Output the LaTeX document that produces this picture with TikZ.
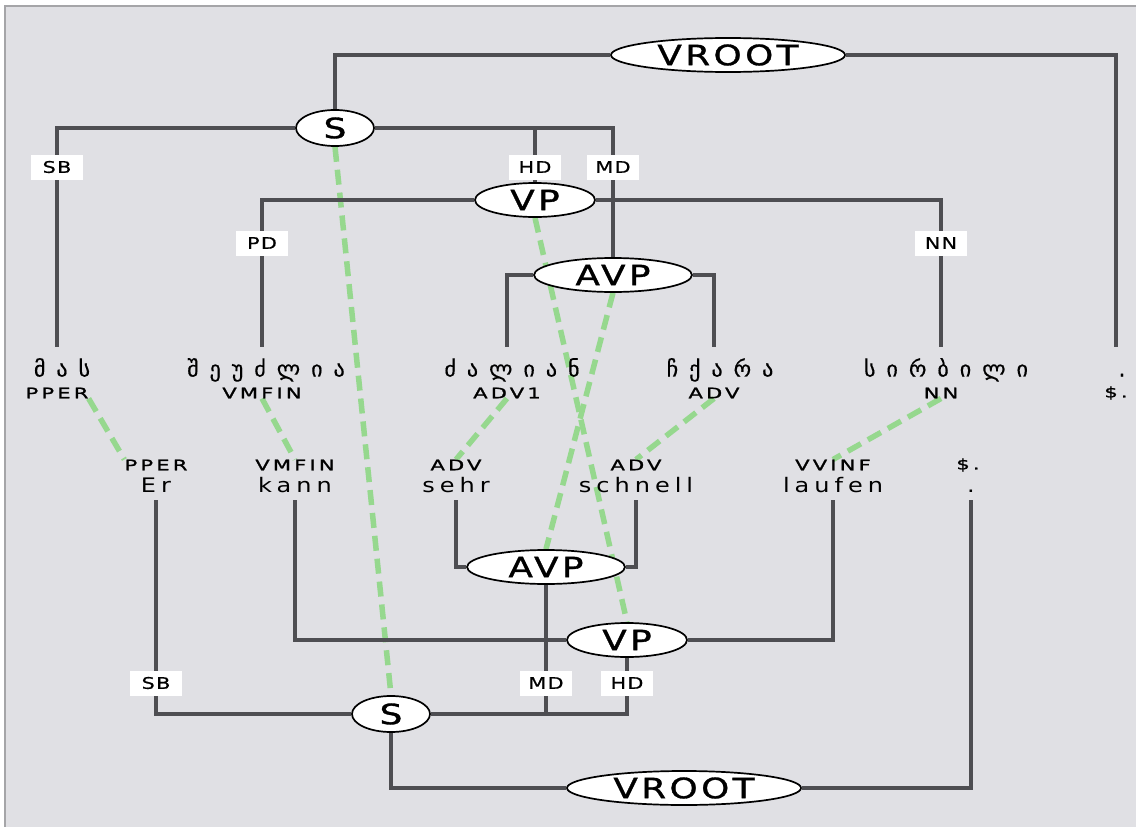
\documentclass[tikz,border=0pt]{standalone}
\usepackage{fontspec}
\setmainfont{DejaVu Sans}
\newfontfamily\catfont[FakeStretch=1.28,LetterSpace=12,FakeBold=1.2]{DejaVu Sans}
\newfontfamily\geofont[LetterSpace=50,FakeBold=0.4]{DejaVu Sans}
\newfontfamily\wordfont[FakeStretch=1.2,LetterSpace=25]{DejaVu Sans}
\newfontfamily\tagfont[FakeStretch=1.45,LetterSpace=22,FakeBold=1.5]{DejaVu Sans}
\newfontfamily\labfont[FakeStretch=1.3,LetterSpace=8,FakeBold=0.6]{DejaVu Sans}
\usetikzlibrary{shapes.geometric}
\pgfdeclarelayer{panel}
\pgfdeclarelayer{links}
\pgfsetlayers{panel,links,main}
\definecolor{panelgray}{RGB}{224,224,228}
\definecolor{framegray}{RGB}{165,165,168}
\definecolor{edgegray}{RGB}{78,78,82}
\definecolor{linkgreen}{RGB}{150,216,142}

\begin{document}
\begin{tikzpicture}[x=1pt,y=-1pt,
  cat/.style={ellipse, draw=black, line width=1.7pt, fill=white, inner sep=0pt,
              font=\catfont\fontsize{28}{28}\selectfont},
  arc/.style={draw=edgegray, line width=4.2pt},
  lab/.style={fill=white, inner sep=0pt, minimum width=52pt, minimum height=25pt,
              font=\labfont\fontsize{16}{16}\selectfont},
  geo/.style={inner sep=0pt, text height=15pt, text depth=4pt,
              font=\geofont\fontsize{22}{22}\selectfont},
  word/.style={inner sep=0pt, text height=14pt, text depth=4pt,
               font=\wordfont\fontsize{20}{20}\selectfont},
  tag/.style={inner sep=0pt, font=\tagfont\fontsize{14.5}{14.5}\selectfont},
  link/.style={draw=linkgreen, line width=5.5pt, dash pattern=on 15pt off 8pt}
]
\path[use as bounding box] (0,0) rectangle (1136,827);

% window panel
\begin{pgfonlayer}{panel}
  \fill[white] (0,0) rectangle (1136,827);
  \fill[panelgray] (5,6) rectangle (1136,827);
  \draw[framegray, line width=1.5pt] (5,827) -- (5,6) -- (1136,6);
\end{pgfonlayer}

% ---------- Georgian tree (top) ----------
\node[cat, minimum width=234pt, minimum height=34pt] (VR1) at (728,55) {VROOT};
\node[cat, minimum width=78pt, minimum height=36pt] (S1) at (335,128) {S};
\node[cat, minimum width=120pt, minimum height=34pt] (VP1) at (535,200) {VP};
\node[cat, minimum width=158pt, minimum height=34pt] (AVP1) at (613,275) {AVP};

\node[geo] (g1) at (62,371) {მას};
\node[geo] (g2) at (266,371) {შეუძლია};
\node[geo] (g3) at (512,371) {ძალიან};
\node[geo] (g4) at (720,371) {ჩქარა};
\node[geo] (g5) at (946,371) {სირბილი};
\node[geo] (g6) at (1122,371) {.};

\node[tag] (t1) at (57,393) {PPER};
\node[tag] (t2) at (262,393) {VMFIN};
\node[tag] (t3) at (507,393) {ADV1};
\node[tag] (t4) at (714,393) {ADV};
\node[tag] (t5) at (941,393) {NN};
\node[tag] (t6) at (1116,393) {\$.};

% ---------- German tree (bottom) ----------
\node[tag] (b1) at (156,465) {PPER};
\node[tag] (b2) at (295,465) {VMFIN};
\node[tag] (b3) at (456,465) {ADV};
\node[tag] (b4) at (636,465) {ADV};
\node[tag] (b5) at (833,465) {VVINF};
\node[tag] (b6) at (968,465) {\$.};

\node[word] (w1) at (156,487) {Er};
\node[word] (w2) at (295,487) {kann};
\node[word] (w3) at (456,487) {sehr};
\node[word] (w4) at (636,487) {schnell};
\node[word] (w5) at (833,487) {laufen};
\node[word] (w6) at (971,487) {.};

\node[cat, minimum width=158pt, minimum height=34pt] (AVP2) at (546,567) {AVP};
\node[cat, minimum width=120pt, minimum height=34pt] (VP2) at (627,640) {VP};
\node[cat, minimum width=78pt, minimum height=36pt] (S2) at (391,714) {S};
\node[cat, minimum width=234pt, minimum height=34pt] (VR2) at (684,788) {VROOT};

% ---------- alignment links ----------
\begin{pgfonlayer}{links}
  \draw[link] (S1.south) -- (S2.north);
  \draw[link] (VP1.south) -- (VP2.north);
  \draw[link] (AVP1.south) -- (AVP2.north);
  \draw[link] (t1.south east) -- (b1.north west);
  \draw[link] (t2.south) -- (b2.north);
  \draw[link] (t3.south) -- (b3.north);
  \draw[link] (t4.south) -- (b4.north);
  \draw[link] (t5.south) -- (b5.north);
\end{pgfonlayer}

% ---------- edges of the top tree ----------
\draw[arc] (VR1.west) -| (S1.north);
\draw[arc, shorten >=14pt] (VR1.east) -| (t6.north |- g6.north);
\draw[arc, shorten >=14pt] (S1.west) -| (t1.north |- g1.north);
\draw[arc] (S1.east) -| (AVP1.north);
\draw[arc] (S1.east -| VP1.north) -- (VP1.north);
\draw[arc, shorten >=14pt] (VP1.west) -| (t2.north |- g2.north);
\draw[arc, shorten >=14pt] (VP1.east) -| (t5.north |- g5.north);
\draw[arc, shorten >=14pt] (AVP1.west) -| (t3.north |- g3.north);
\draw[arc, shorten >=14pt] (AVP1.east) -| (t4.north |- g4.north);

% ---------- edges of the bottom tree ----------
\draw[arc, shorten <=4pt] (w1.south) |- (S2.west);
\draw[arc, shorten <=4pt] (w2.south) |- (VP2.west);
\draw[arc, shorten <=4pt] (w3.south) |- (AVP2.west);
\draw[arc, shorten <=4pt] (w4.south) |- (AVP2.east);
\draw[arc, shorten <=4pt] (w5.south) |- (VP2.east);
\draw[arc, shorten <=4pt] (w6.south) |- (VR2.east);
\draw[arc] (AVP2.south) -- (AVP2.south |- S2.east);
\draw[arc] (VP2.south) |- (S2.east);
\draw[arc] (S2.south) |- (VR2.west);

% ---------- edge labels ----------
\node[lab] (lSB1) at (57,167) {SB};
\node[lab] (lHD1) at (535,167) {HD};
\node[lab] (lMD1) at (613,167) {MD};
\node[lab] (lPD1) at (262,243) {PD};
\node[lab] (lNN1) at (941,243) {NN};
\node[lab] (lSB2) at (156,683) {SB};
\node[lab] (lMD2) at (546,683) {MD};
\node[lab] (lHD2) at (627,683) {HD};
\end{tikzpicture}
\end{document}
